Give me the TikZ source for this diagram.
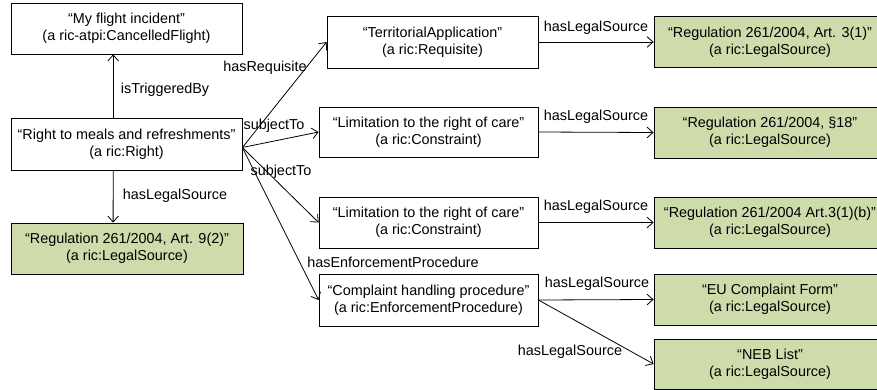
\documentclass[tikz,border=0pt]{standalone}
\usepackage{fontspec}
\setmainfont{Liberation Sans}
\usetikzlibrary{arrows.meta}
\definecolor{lsgreen}{RGB}{205,220,170}
\tikzset{
  box/.style={draw=black, line width=0.6pt, align=center, inner sep=0pt,
    font=\fontsize{10.8}{13}\selectfont},
  lsbox/.style={box, fill=lsgreen, minimum width=174pt, minimum height=38.25pt},
  lbl/.style={inner sep=0pt, font=\fontsize{10.8}{13}\selectfont},
  arr/.style={line width=0.6pt, -{Straight Barb[length=4.5pt,width=8pt,line width=0.6pt]}}
}
\begin{document}
\begin{tikzpicture}[x=0.75pt,y=-0.75pt]
\useasboundingbox (0,0) rectangle (877,389);
\clip (0,0) rectangle (877,389);
% left column
\node[box, minimum width=173.25pt, minimum height=38.25pt] (flight) at (126.5,28.5)
  {“My flight incident”\\(a ric-atpi:CancelledFlight)};
\node[box, minimum width=173.25pt, minimum height=39pt] (right) at (126.5,144.5)
  {“Right to meals and refreshments”\\(a ric:Right)};
\node[lsbox] (ls0) at (127,248.5)
  {“Regulation 261/2004, Art. 9(2)"\\(a ric:LegalSource)};
% middle column
\node[box, minimum width=158.25pt, minimum height=39pt] (terr) at (432.5,42)
  {“TerritorialApplication"\\(a ric:Requisite)};
\node[box, minimum width=164.25pt, minimum height=37.5pt] (lim1) at (428.5,132)
  {“Limitation to the right of care"\\(a ric:Constraint)};
\node[box, minimum width=164.25pt, minimum height=38.25pt] (lim2) at (428.5,222.5)
  {“Limitation to the right of care"\\(a ric:Constraint)};
\node[box, minimum width=164.25pt, minimum height=39pt] (comp) at (428.5,300)
  {“Complaint handling procedure"\\(a ric:EnforcementProcedure)};
% right column
\node[lsbox] (r1) at (770,42) {“Regulation 261/2004, Art. 3(1)"\\(a ric:LegalSource)};
\node[lsbox] (r2) at (770,132.5) {“Regulation 261/2004, §18"\\(a ric:LegalSource)};
\node[lsbox] (r3) at (770,222.5) {“Regulation 261/2004 Art.3(1)(b)"\\(a ric:LegalSource)};
\node[lsbox] (r4) at (770,299.5) {“EU Complaint Form"\\(a ric:LegalSource)};
\node[lsbox, minimum height=37.5pt] (r5) at (770,364) {“NEB List"\\(a ric:LegalSource)};
% connectors
\coordinate (fan) at ([yshift=-2.25pt]right.east);
\draw[arr] ([xshift=-10pt]right.north) -- ([xshift=-10pt]flight.south);
\draw[arr] ([xshift=-10pt]right.south) -- ([xshift=-10.4pt]ls0.north);
\draw[arr] (fan) -- (terr.west);
\draw[arr] (fan) -- (lim1.west);
\draw[arr] (fan) -- (lim2.west);
\draw[arr] (fan) -- (comp.west);
\draw[arr] (terr.east) -- (r1.west);
\draw[arr] (lim1.east) -- (r2.west);
\draw[arr] (lim2.east) -- (r3.west);
\draw[arr] (comp.east) -- (r4.west);
\draw[arr] (comp.east) -- (r5.west);
% labels
\node[lbl] (l1) at (165,90) {isTriggeredBy};
\node[lbl] (l2) at (175,196) {hasLegalSource};
\node[lbl] (l3) at (265,68) {hasRequisite};
\node[lbl] (l4) at (274,126) {subjectTo};
\node[lbl] (l5) at (281,172) {subjectTo};
\node[lbl] (l6) at (393,262) {hasEnforcementProcedure};
\node[lbl] (l7) at (596,28) {hasLegalSource};
\node[lbl] (l8) at (596,117) {hasLegalSource};
\node[lbl] (l9) at (596,207) {hasLegalSource};
\node[lbl] (l10) at (597,284) {hasLegalSource};
\node[lbl] (l11) at (570,352) {hasLegalSource};
\end{tikzpicture}
\end{document}
